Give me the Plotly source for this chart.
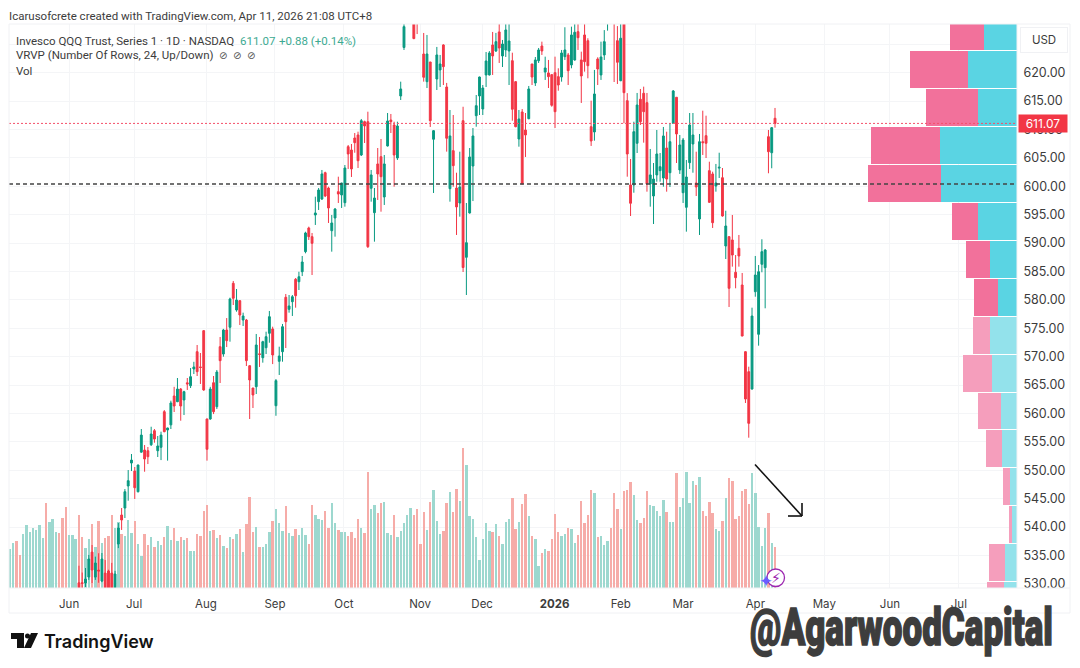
import plotly.graph_objects as go

# volume in millions, oldest bar first, 1 = up day, 0 = down day
volumes = [
    39, 45.3, 47.3, 33, 53.7, 63.3, 56, 59.7, 57.7, 62.7,
    50.3, 84.7, 65.7, 69.3, 56, 55, 69.7, 80.7, 53, 52.7,
    49, 72.7, 50.7, 39.7, 48.7, 64, 40.7, 66.7, 45, 50.3,
    51.7, 73.3, 60.3, 66.3, 53.7, 52, 68, 54.7, 67, 44,
    31.7, 54, 43, 51.3, 41.3, 47.3, 43, 51.3, 62, 48,
    60.3, 47, 51.3, 48.3, 50.3, 36.7, 37.3, 54, 52, 77,
    82.7, 56.7, 58, 50.3, 53, 41.7, 39.7, 50.7, 49.3, 54,
    59, 36, 64, 91, 55.7, 61.3, 40.7, 40.7, 44, 56,
    66.7, 78.7, 64.7, 56.7, 81.7, 55.3, 52, 58.7, 53, 60.3,
    52.7, 44, 83, 73, 69.3, 68, 77, 59.7, 84.7, 65,
    57.7, 55.7, 55.7, 52, 55.7, 50, 69.3, 60.3, 54.7, 116,
    78.7, 82.7, 75, 84.7, 85.7, 54.7, 53, 73.3, 51,
    57, 64.7, 73, 80, 73.3, 78.7, 44, 76, 58, 86,
    98, 66.7, 54, 57, 85, 95.7, 76, 99, 87, 140,
    123, 71.7, 68.7, 50.7, 27.7, 49, 64.7, 57, 56.3, 64,
    52, 44.3, 65.7, 69.3, 89.7, 59, 65.7, 84.3, 94, 72,
    52, 49.3, 22, 34.7, 39, 37.3, 49, 74, 55.7, 51.7,
    53.7, 60, 59, 45, 53, 87, 64.7, 73, 97.7, 95.3,
    50.7, 52, 43, 46.7, 60.3, 95, 78.7, 58.7, 97, 97.7,
    106.3, 92.7, 67.7, 64.7, 70, 97, 82.7, 82.3, 77, 72,
    88.3, 76, 66, 66, 114.7, 81, 89.7, 116, 85, 107,
    102.7, 111, 77, 72, 85.7, 75.3, 59, 56.7, 66.7, 90,
    109.7, 107.3, 69, 72, 97.3, 98.7, 84.3, 114.7, 94.7, 61,
    42, 59.7, 75.3, 45, 40.7,
]
volume_up = [
    1, 1, 0, 0, 1, 1, 1, 1, 1, 1,
    1, 0, 1, 1, 1, 0, 0, 0, 1, 1,
    1, 0, 0, 1, 1, 0, 1, 0, 1, 0,
    0, 0, 1, 1, 0, 1, 1, 1, 0, 1,
    1, 0, 0, 1, 0, 1, 1, 0, 1, 1,
    0, 1, 0, 1, 0, 1, 1, 0, 0, 0,
    0, 1, 0, 1, 0, 1, 0, 1, 0, 1,
    0, 1, 0, 0, 0, 1, 0, 1, 1, 1,
    0, 1, 1, 1, 0, 1, 1, 0, 1, 1,
    1, 0, 0, 1, 1, 1, 0, 0, 1, 1,
    0, 1, 1, 0, 0, 0, 0, 1, 0, 0,
    1, 1, 0, 0, 1, 1, 1, 0, 1,
    1, 1, 1, 1, 0, 0, 0, 0, 1, 0,
    1, 1, 1, 0, 0, 1, 0, 0, 1, 0,
    1, 1, 1, 1, 1, 1, 1, 1, 0, 1,
    0, 1, 1, 1, 0, 0, 1, 0, 0, 1,
    0, 1, 1, 0, 1, 0, 0, 0, 0, 1,
    1, 0, 1, 1, 0, 0, 0, 0, 0, 1,
    0, 1, 1, 1, 0, 0, 0, 1, 0, 0,
    0, 1, 1, 0, 0, 0, 1, 1, 1, 1,
    1, 0, 1, 1, 0, 1, 1, 1, 1, 1,
    0, 1, 0, 0, 0, 0, 1, 1, 0, 1,
    0, 0, 0, 0, 0, 0, 0, 1, 1, 1,
    1, 1, 0, 1, 0,
]

# daily prices for the bars that reach the visible price range
opens = [
    530.2, 530.2, 530.16, 531.21, 535.6, 531.2, 532.44, 530.5, 531.9, 532.27,
    531.9, 528.9, 537.02, 542.13, 543.36, 547.24, 551.28, 549.87, 546.23, 553.2,
    553.57, 553.45, 554.5, 556.97, 553.45, 554.05, 560.32, 557.1, 558.0, 563.08,
    562.08, 564.31, 562.38, 565.4, 564.89, 567.84, 570.88, 568.2, 574.58, 559.03,
    559.03, 565.42, 561.2, 571.76, 570.47, 574.7, 575.18, 582.92, 578.22, 579.86,
    576.46, 576.46, 568.41, 564.49, 564.72, 570.5, 569.82, 571.58, 574.12, 574.88,
    561.37, 569.19, 570.88, 580.46, 578.34, 579.68, 583.63, 583.2, 584.96, 588.49,
    592.66, 591.13, 594.95, 597.29, 597.76, 602.39, 599.7, 592.18, 594.42, 599.05,
    598.47, 597.11, 606.97, 606.39, 608.5, 609.03, 605.51, 611.37, 611.37, 599.65,
    595.35, 603.93, 605.21, 598.12, 607.1, 611.67, 610.79, 604.98, 615.9, 624.44,
    630, 633, 631, 632, 631, 623.29, 618.42, 621.88, 608.28, 618.89,
    620.48, 624.88, 617.48, 599.58, 606.27, 599.7, 597.06, 611.55, 587.5, 595.3,
    603.57, 612.43, 615.9, 613.61, 619.6, 619.6, 624.88, 623.82, 627.17, 622.94,
    624.0, 623.82, 622.11, 618.42, 608.33, 613.08, 609.91, 611.9, 621.53, 618.19,
    622.11, 624.7, 620.12, 619.95, 619.65, 620.0, 619.3, 619.24, 622.82, 623.12,
    621.36, 622.24, 627.22, 622.24, 626.64, 625.63, 610.49, 609.56, 622.41, 619.6,
    623.12, 630, 633, 632, 625.63, 618.59, 629.0, 615.07, 600.23, 600.23,
    607.57, 615.32, 616.37, 614.72, 600.4, 598.29, 602.0, 602.75, 601.46, 606.74,
    602.39, 611.09, 615.67, 602.87, 598.87, 596.3, 604.16, 607.45, 600.58, 594.24,
    607.85, 608.91, 602.75, 602.17, 600.05, 603.2, 601.51, 589.49, 591.13, 590.55,
    584.86, 589.08, 582.62, 570.88, 567.36, 564.31, 581.44, 573.94, 586.27, 585.67,
    608.73, 605.91, 611.97,
]
highs = [
    533.2, 532.0, 532.8, 535.1, 536.85, 534.8, 535.4, 535.44, 534.2, 532.5,
    533.7, 532.3, 540.72, 543.36, 546.7, 550.05, 552.87, 550.58, 551.0, 557.27,
    554.45, 554.1, 557.67, 557.27, 556.04, 556.8, 560.6, 557.5, 562.25, 564.7,
    566.25, 564.49, 564.0, 566.25, 568.0, 569.1, 572.06, 570.65, 574.7, 559.1,
    564.7, 566.6, 567.66, 573.47, 574.9, 576.8, 580.39, 583.33, 581.92, 579.98,
    577.75, 576.64, 568.5, 564.5, 574.0, 573.47, 572.8, 574.4, 578.05, 575.28,
    566.07, 571.76, 575.76, 581.04, 580.86, 580.86, 583.85, 584.96, 587.73, 592.0,
    592.89, 591.78, 598.17, 599.7, 602.87, 602.57, 599.93, 594.95, 596.18, 601.69,
    600.6, 603.75, 607.27, 607.45, 609.38, 609.61, 611.85, 611.55, 613.13, 602.87,
    599.7, 606.74, 608.33, 605.51, 612.9, 612.73, 611.37, 611.37, 618.42, 630.3,
    632, 634, 632, 633, 633.5, 626.99, 626.64, 621.9, 609.9, 624.53,
    623.12, 625.0, 618.2, 613.43, 612.55, 602.39, 606.09, 614.0, 597.06, 606.74,
    610.26, 616.07, 619.3, 617.83, 623.64, 623.8, 627.17, 627.0, 629, 625.76,
    629.5, 629.5, 623.52, 618.5, 613.43, 613.6, 612.9, 617.66, 621.55, 622.76,
    624.35, 625.46, 622.82, 622.24, 619.77, 622.82, 620.77, 624.0, 628.0, 623.47,
    628.1, 629.2, 629.4, 623.7, 629.5, 626.06, 615.07, 620.48, 622.71, 625.46,
    627.5, 633, 634.5, 633, 628.2, 629.5, 630.5, 616.4, 604.81, 611.37,
    616.43, 617.13, 617.54, 616.43, 606.57, 604.1, 609.91, 605.86, 610.44, 609.61,
    611.14, 616.95, 615.72, 609.03, 608.5, 604.63, 612.9, 612.9, 606.09, 609.21,
    613.31, 612.43, 604.33, 602.57, 603.93, 605.91, 603.22, 595.7, 591.2, 594.95,
    587.9, 591.43, 584.74, 570.95, 568.24, 578.63, 587.73, 586.14, 590.67, 588.96,
    609.91, 610.4, 613.79,
]
lows = [
    528.5, 528.7, 529.45, 530.7, 530.16, 530.7, 530.2, 530.3, 528.5, 528.5,
    528.5, 528.5, 536.3, 539.5, 541.6, 544.65, 549.87, 544.95, 546.1, 553.1,
    549.75, 551.1, 554.28, 554.86, 552.34, 551.8, 556.7, 551.7, 557.27, 560.26,
    562.0, 558.73, 559.73, 564.14, 564.49, 566.95, 566.6, 565.2, 564.0, 551.7,
    558.9, 559.9, 560.8, 565.37, 570.0, 571.7, 572.64, 579.1, 577.92, 575.58,
    575.4, 568.36, 559.03, 560.97, 563.43, 568.19, 568.95, 570.47, 572.46, 568.7,
    559.6, 566.78, 569.12, 571.53, 577.75, 577.17, 578.63, 581.74, 584.2, 588.2,
    590.55, 584.38, 593.19, 595.83, 597.59, 598.1, 593.54, 588.49, 591.13, 597.06,
    596.18, 596.41, 603.05, 601.64, 605.91, 603.22, 605.33, 607.62, 589.14, 597.29,
    590.25, 597.59, 595.53, 596.71, 607.0, 609.38, 599.93, 604.63, 615.19, 624.0,
    629.5, 630, 625.9, 626.8, 629.5, 618.42, 617.3, 610.44, 598.82, 616.95,
    617.48, 617.83, 606.1, 597.29, 599.93, 591.43, 594.65, 584.91, 580.86, 595.2,
    597.4, 610.49, 612.55, 612.55, 617.48, 619.5, 619.6, 623.64, 621.71, 621.0,
    622.77, 617.83, 611.55, 610.39, 606.97, 600.35, 605.16, 611.8, 617.83, 617.66,
    621.71, 623.12, 618.72, 617.3, 614.01, 610.26, 616.83, 618.42, 622.24, 617.83,
    620.77, 622.11, 624.0, 614.67, 620.18, 619.01, 607.1, 608.03, 617.83, 618.72,
    622.24, 627.4, 630, 618.36, 618.01, 618.5, 611.1, 601.69, 594.77, 598.87,
    605.86, 610.79, 607.68, 599.05, 596.41, 593.36, 600.81, 600.81, 599.93, 599.05,
    599.88, 610.97, 604.1, 602.17, 597.06, 592.01, 603.05, 602.39, 598.29, 591.43,
    605.51, 604.98, 597.06, 592.66, 599.05, 601.46, 594.65, 587.2, 578.75, 585.85,
    582.04, 585.85, 573.6, 561.85, 555.74, 564.2, 580.56, 571.94, 584.86, 578.52,
    602.29, 603.17, 610.32,
]
closes = [
    528.9, 530.1, 530.86, 534.38, 532.44, 533.68, 532.27, 534.38, 528.9, 528.9,
    528.9, 531.74, 539.84, 541.25, 546.23, 548.17, 551.8, 546.93, 550.93, 556.2,
    551.99, 552.39, 556.39, 555.5, 554.28, 556.2, 556.8, 557.45, 561.85, 561.32,
    564.31, 561.32, 563.84, 565.2, 566.48, 568.19, 567.36, 568.1, 564.14, 553.7,
    564.31, 560.32, 567.3, 569.3, 574.7, 572.82, 580.16, 580.28, 579.98, 577.34,
    577.17, 569.3, 565.9, 563.26, 572.06, 570.4, 572.64, 573.52, 577.04, 570.3,
    565.78, 570.12, 575.28, 576.16, 578.93, 580.56, 580.74, 584.08, 586.67, 591.78,
    591.13, 589.96, 595.3, 599.35, 602.17, 598.29, 596.18, 593.54, 596.0, 598.64,
    600.58, 603.22, 605.69, 603.05, 607.68, 604.5, 611.55, 610.62, 589.37, 602.0,
    597.94, 602.17, 601.69, 603.93, 611.5, 611.37, 605.51, 610.62, 617.13, 628.1,
    631, 631, 626.0, 630, 632.5, 619.19, 623.29, 611.55, 609.79, 623.12,
    621.53, 621.06, 608.45, 608.86, 603.63, 596.36, 599.88, 585.7, 590.07, 605.16,
    608.86, 614.19, 619.24, 617.3, 622.06, 623.47, 622.94, 625.46, 624.35, 625.05,
    627.52, 625.58, 613.56, 610.49, 611.85, 600.4, 609.03, 617.13, 619.24, 622.24,
    624.0, 623.82, 620.83, 619.3, 614.26, 613.13, 617.83, 623.47, 624.0, 620.35,
    626.64, 627.11, 626.16, 619.42, 621.94, 621.23, 607.98, 616.25, 620.65, 622.76,
    625.46, 632, 632, 630, 621.83, 626.06, 616.48, 605.69, 597.01, 609.61,
    614.31, 611.37, 613.13, 600.4, 602.0, 601.28, 605.69, 603.45, 608.86, 601.28,
    607.85, 616.78, 609.21, 607.27, 608.15, 601.64, 610.79, 609.03, 599.88, 607.85,
    607.68, 607.57, 597.18, 593.59, 600.58, 603.35, 594.77, 593.01, 582.04, 587.9,
    583.91, 587.73, 573.64, 562.55, 558.27, 577.16, 584.38, 584.96, 588.49, 588.78,
    606.09, 610.32, 611.07,
]

# volume profile rows, top row first
vp_prices = [627.24, 620.56, 613.88, 607.2, 600.52, 593.84, 587.16, 580.48,
             573.8, 567.12, 560.44, 553.76, 547.08, 540.4, 533.72, 527.04]
vp_up = [33, 49, 39, 76.7, 76, 39, 27.3, 19, 27, 24.7, 15.7, 15, 7, 5, 12, 12.7]
vp_down = [34.3, 57.7, 51.7, 69, 73.3, 26.3, 23.7, 24, 17, 29.6, 23.3, 16, 6.7, 3, 15.7, 17.3]
vp_in_value_area = [1, 1, 1, 1, 1, 1, 1, 1, 0, 0, 0, 0, 0, 0, 0, 0]

month_labels = ["Jun", "Jul", "Aug", "Sep", "Oct", "Nov", "Dec", "<b>2026</b>", "Feb", "Mar", "Apr", "May", "Jun", "Jul"]
month_bars = [18, 37.8, 59.7, 80.7, 101.7, 124.9, 143.8, 165.9, 186, 205, 227, 248, 268, 289]
price_ticks = [530, 535, 540, 545, 550, 555, 560, 565, 570, 575, 580, 585, 590, 595, 600, 605, 610, 615, 620, 625]
price_labels = ["%.2f" % p for p in price_ticks[:-1]] + [""]  # 625 sits under the USD box

last_price = 611.07
level_price = 600.4

GREEN = "#089981"
RED = "#F23645"
FONT = "Inter"
TEXT_FONT = "Roboto"
TEXT = "#3c3c3c"
GRID = "#f4f5f7"

# the plot area in window pixels
LEFT, RIGHT, TOP, BOTTOM = 9, 1017, 24, 588


def px(x, y):
    return (x - LEFT) / (RIGHT - LEFT), (BOTTOM - y) / (BOTTOM - TOP)


def line(x0, y0, x1, y1, color, width=1):
    a, b = px(x0, y0)
    c, d = px(x1, y1)
    return dict(type="line", xref="paper", yref="paper", x0=a, y0=b, x1=c, y1=d,
                line=dict(color=color, width=width), layer="above")


def label(text, x, y, size=11.5, color=TEXT, family=TEXT_FONT, anchor="left", weight=None):
    a, b = px(x, y)
    return dict(text=text, xref="paper", yref="paper", x=a, y=b, xanchor=anchor, yanchor="middle",
                showarrow=False, font=dict(size=size, color=color, family=family, weight=weight))


def path(points, color):
    coords = ["%s%.5f,%.5f" % ("M" if i == 0 else "L", *px(*p)) for i, p in enumerate(points)]
    return dict(type="path", xref="paper", yref="paper", path=" ".join(coords) + " Z",
                fillcolor=color, line=dict(width=0), layer="above")


candle_x = list(range(len(volumes) - len(opens), len(volumes)))
volume_x = list(range(len(volumes)))

fig = go.Figure()

fig.add_trace(go.Bar(
    x=volume_x, y=volumes, width=0.72, xaxis="x", yaxis="y",
    marker=dict(color=["#9DD8CF" if u else "#F6ACA8" for u in volume_up], line=dict(width=0)),
))
fig.add_trace(go.Candlestick(
    x=candle_x, open=opens, high=highs, low=lows, close=closes, xaxis="x", yaxis="y2",
    increasing=dict(line=dict(color=GREEN, width=1), fillcolor=GREEN),
    decreasing=dict(line=dict(color=RED, width=1), fillcolor=RED),
    whiskerwidth=0,
))
fig.add_trace(go.Bar(
    x=vp_up, y=vp_prices, orientation="h", width=6.5, xaxis="x2", yaxis="y2",
    marker=dict(color=["#5AD4E3" if v else "#93E2EB" for v in vp_in_value_area], line=dict(width=0)),
))
fig.add_trace(go.Bar(
    x=vp_down, y=vp_prices, orientation="h", width=6.5, xaxis="x2", yaxis="y2",
    marker=dict(color=["#F2719B" if v else "#F59EBC" for v in vp_in_value_area], line=dict(width=0)),
))

shapes = [
    dict(type="line", xref="paper", yref="y2", x0=0, x1=1, y0=last_price, y1=last_price,
         line=dict(color="#F4506A", width=1, dash="2px,2px"), layer="above"),
    dict(type="line", xref="paper", yref="y2", x0=0, x1=0.998, y0=level_price, y1=level_price,
         line=dict(color="#444444", width=1.4, dash="4px,3px"), layer="above"),
    # chart frame
    line(9, 24, 1070, 24, "#f0f1f4"),
    line(9, 24, 9, 613, "#f0f1f4"),
    line(1070, 24, 1070, 613, "#f0f1f4"),
    line(9, 588, 1070, 588, "#f0f1f4"),
    line(9, 613, 1070, 613, "#f0f1f4"),
    line(1017, 24, 1017, 588, "#f0f1f4"),
    # hand drawn arrow
    line(755, 464.5, 802, 516, "#111111", 1.6),
    line(802, 516, 788, 516, "#111111", 1.6),
    line(802, 516, 802, 503, "#111111", 1.6),
    # TradingView mark
    path([(11, 633), (24, 633), (24, 648), (17, 648), (17, 639), (11, 639)], "#111111"),
    path([(31, 633), (38, 633), (31, 648), (24, 648)], "#111111"),
    dict(type="circle", xref="paper", yref="paper", fillcolor="#111111", line=dict(width=0), layer="above",
         x0=px(25, 0)[0], x1=px(30, 0)[0], y0=px(0, 638.5)[1], y1=px(0, 633.5)[1]),
    # badge
    dict(type="circle", xref="paper", yref="paper", fillcolor="white",
         line=dict(color="#9C27B0", width=1.3), layer="above",
         x0=px(767, 0)[0], x1=px(784.5, 0)[0], y0=px(0, 586.5)[1], y1=px(0, 569)[1]),
]

annotations = [
    label("Icarusofcrete created with TradingView.com, Apr 11, 2026 21:08 UTC+8", 7, 16),
    label("Invesco QQQ Trust, Series 1 · 1D · NASDAQ", 14, 40.5),
    label("611.07", 238, 40.5, color="#3DAA92"),
    label("+0.88 (+0.14%)", 277, 40.5, color="#3DAA92"),
    label("VRVP (Number Of Rows, 24, Up/Down)", 14, 55.5),
    label("⊘", 223, 56, 10, "#555555", "DejaVu Sans", "center"),
    label("⊘", 237, 56, 10, "#555555", "DejaVu Sans", "center"),
    label("⊘", 251, 56, 10, "#555555", "DejaVu Sans", "center"),
    label("Vol", 14, 71),
    label("TradingView", 42, 641, 18, "#131313", FONT, weight=600),
    label("@AgarwoodCapital", 748, 627.5, 52, "#3d3d3d", "Roboto", weight=900),
    label("⚡", 775.7, 577.7, 14, "#9C27B0", "DejaVu Sans", "center"),
    label("✦", 765.7, 581, 17, "#6A5CFF", "DejaVu Sans", "center"),
    dict(text="USD", xref="paper", yref="paper", x=px(1044, 0)[0], y=px(0, 39.5)[1], xanchor="center",
         yanchor="middle", showarrow=False, font=dict(size=11.5, color=TEXT, family=FONT),
         bgcolor="white", bordercolor="#f0f1f4", borderwidth=1, borderpad=5, width=36),
    dict(text="611.07", xref="paper", yref="y2", x=px(1043, 0)[0], y=last_price, xanchor="center",
         yanchor="middle", showarrow=False, font=dict(size=12, color="white", family=FONT),
         bgcolor=RED, borderpad=1, width=46),
]

fig.update_layout(
    width=1080, height=668,
    margin=dict(l=LEFT, r=1080 - RIGHT, t=TOP, b=668 - BOTTOM, autoexpand=False),
    paper_bgcolor="white", plot_bgcolor="white",
    showlegend=False, barmode="stack", hovermode=False, boxgap=0.2,
    font=dict(family=FONT, size=11.5, color=TEXT),
    xaxis=dict(range=[-0.3, 306.7], rangeslider=dict(visible=False), tickmode="array",
               tickvals=month_bars, ticktext=month_labels, ticks="outside", ticklen=5,
               tickcolor="rgba(0,0,0,0)", showgrid=True, gridcolor=GRID, gridwidth=1,
               zeroline=False, showline=False),
    xaxis2=dict(range=[RIGHT - LEFT, 0], overlaying="x", anchor="y2", visible=False),
    yaxis=dict(range=[0, BOTTOM - TOP], visible=False, fixedrange=True),
    yaxis2=dict(range=[529.28, 628.57], overlaying="y", side="right", anchor="x", tickmode="array",
                tickvals=price_ticks, ticktext=price_labels, tickfont=dict(size=12.5),
                ticks="outside", ticklen=3, tickcolor="rgba(0,0,0,0)", showgrid=True,
                gridcolor=GRID, gridwidth=1, zeroline=False, showline=False),
    shapes=shapes,
    annotations=annotations,
)

# squeeze the watermark to its condensed width, the fonts here have no heavy condensed cut
squeeze = """
document.body.style.margin = '0';
setTimeout(function () {
  document.querySelectorAll('.annotation-text').forEach(function (t) {
    if (t.textContent.indexOf('@Agarwood') !== 0) return;
    var b = t.getBBox();
    var k = 303 / b.width;
    t.setAttribute('transform', 'translate(' + b.x + ',0) scale(' + k + ',1) translate(' + (-b.x) + ',0)');
    t.style.stroke = '#3d3d3d';
    t.style.strokeWidth = '1.6px';
  });
}, 50);
"""
fig.write_html("out.html", post_script=squeeze, config=dict(displayModeBar=False))
